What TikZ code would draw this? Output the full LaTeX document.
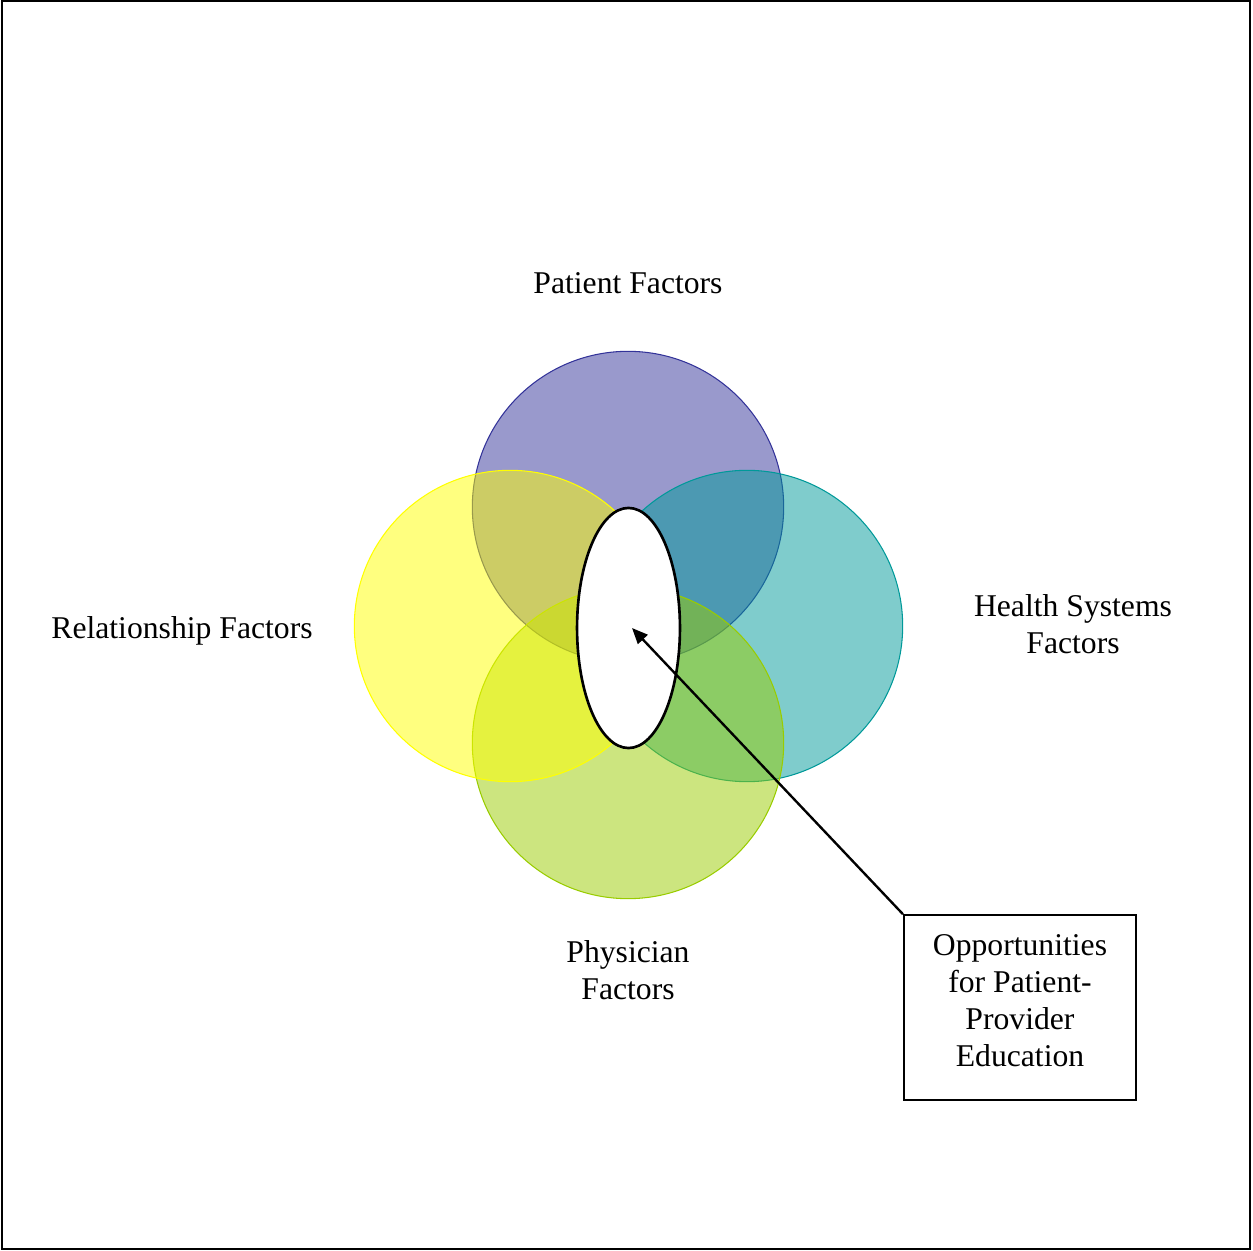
\documentclass[tikz,border=0pt]{standalone}
\usepackage{fontspec}
\setmainfont{Liberation Serif}
\usetikzlibrary{positioning,shapes.geometric,arrows.meta}

\definecolor{patientc}{RGB}{51,51,153}
\definecolor{relationc}{RGB}{255,255,0}
\definecolor{healthc}{RGB}{0,153,153}
\definecolor{physicianc}{RGB}{153,204,0}

\begin{document}
\begin{tikzpicture}[x=0.379pt,y=-0.379pt,
    every node/.style={font=\fontsize{12}{14}\selectfont,align=center},
    factor/.style={circle,minimum size=118pt,inner sep=0pt,draw=#1,fill=#1,fill opacity=0.5,line width=0.4pt}]
    \useasboundingbox (0,0) rectangle (1253,1251);
    \draw[line width=0.75pt] (2,1) rectangle (1250,1249);

    % circles
    \node[factor=patientc] (patient) at (628,507) {};
    \node[factor=healthc] (health) at (747,626) {};
    \node[factor=physicianc] (physician) at (628,743) {};
    \node[factor=relationc] (relation) at (510,626) {};
    \node[ellipse,draw,fill=white,line width=1pt,inner sep=0pt,minimum width=39pt,minimum height=91pt] (gap) at (628.5,628) {};

    % labels
    \node (patientlbl) at (628,283) {Patient Factors};
    \node (relationlbl) at (182,631) {Relationship Factors};
    \node (healthlbl) at (1073,624) {Health Systems\\Factors};
    \node (physicianlbl) at (628,970) {Physician\\Factors};

    \node[draw,line width=0.75pt,minimum width=88pt,minimum height=70pt] (edu) at (1020,1007.5) {};
    \node (edulbl) at (1020,1001) {Opportunities\\for Patient-\\Provider\\Education};
    \coordinate (tip) at (632,628);
    \draw[line width=0.9pt,-{Triangle[length=6pt,width=5pt]}] (edu.north west) -- (tip);
\end{tikzpicture}
\end{document}
